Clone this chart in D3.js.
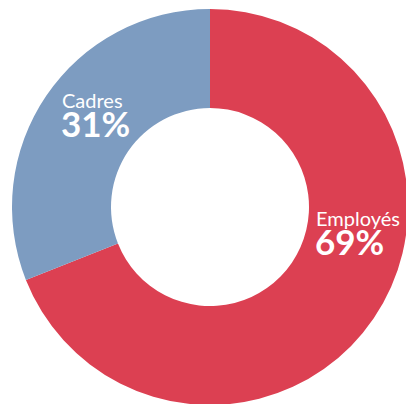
<!DOCTYPE html>
<meta charset="utf-8">
<script src="https://d3js.org/d3.v7.min.js"></script>
<style>
    body { margin: 0; background: #fff; }
    text { font-family: "Source Sans Pro", Lato, "Open Sans", sans-serif; fill: #fff; }
</style>
<div id="my_dataviz"></div>
<script>

    // data
    var categories = ["Employés", "Cadres"];
    var values = [69, 31];
    var colors = ["#dc4052", "#7d9cc1"];

    var width = 406, height = 404;
    var cx = 210, cy = 207,
        outerR = 198, innerR = 99;

    var svg = d3.select("#my_dataviz")
        .append("svg")
        .attr("width", width)
        .attr("height", height)
        .append("g")
        .attr("transform", "translate(" + cx + "," + cy + ")");

    var data = categories.map(function (c, i) { return {name: c, value: values[i]}; });

    var pie = d3.pie()
        .value(function (d) { return d.value; })
        .sort(null);

    var arc = d3.arc()
        .innerRadius(innerR)
        .outerRadius(outerR);

    var color = d3.scaleOrdinal()
        .domain(categories)
        .range(colors);

    var arcs = pie(data);

    svg.selectAll("path")
        .data(arcs)
        .enter()
        .append("path")
        .attr("d", arc)
        .style("fill", function (d) { return color(d.data.name); });

    // label anchors (left edge of the text block, relative to the centre)
    var labelPos = {"Employés": [106, 19], "Cadres": [-148, -99]};

    var labels = svg.selectAll(".lbl")
        .data(arcs)
        .enter()
        .append("g")
        .attr("class", "lbl")
        .attr("transform", function (d) {
            var p = labelPos[d.data.name];
            return "translate(" + p[0] + "," + p[1] + ")";
        });

    labels.append("text")
        .attr("x", 0)
        .attr("y", 0)
        .style("font-size", "20px")
        .text(function (d) { return d.data.name; });

    labels.append("text")
        .attr("x", -1)
        .attr("y", 29)
        .style("font-size", "35px")
        .style("font-weight", "bold")
        .text(function (d) { return d.data.value + "%"; });

</script>
